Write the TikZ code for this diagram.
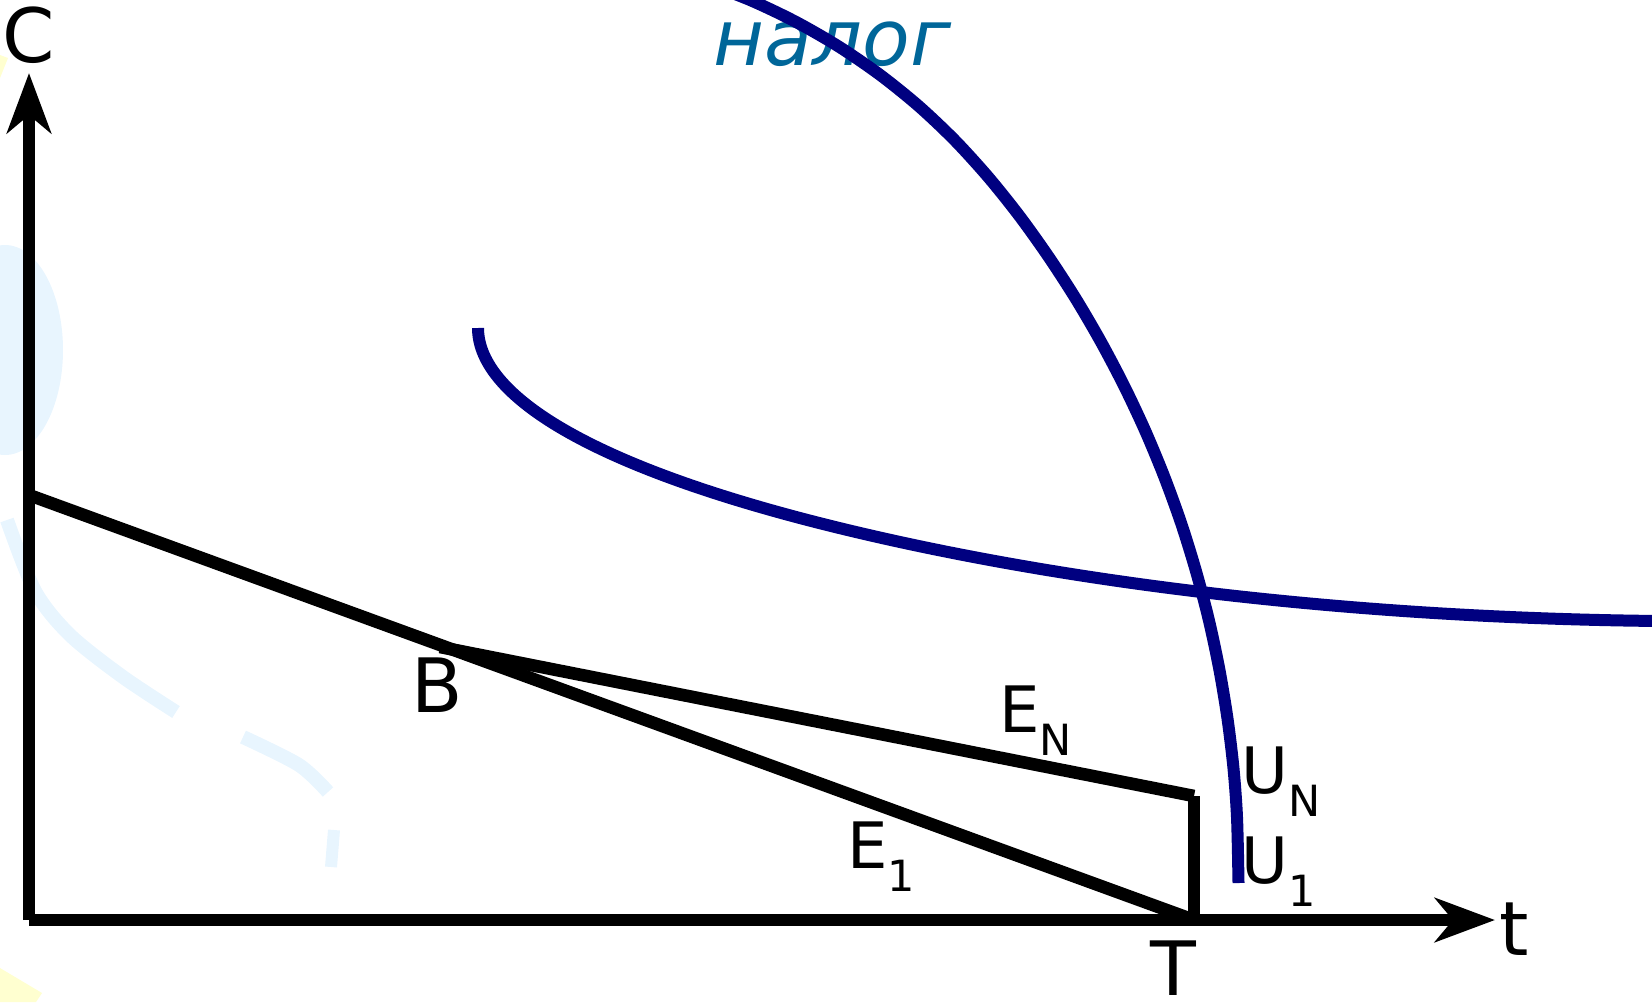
\documentclass[tikz,border=0pt]{standalone}
\usepackage{fontspec}
\setmainfont{DejaVu Sans}
\usetikzlibrary{arrows.meta}
\definecolor{curveblue}{RGB}{0,0,128}
\definecolor{taxblue}{RGB}{0,102,153}
\definecolor{ghostblue}{RGB}{232,245,254}
\definecolor{ghostyellow}{RGB}{255,255,208}
\newcommand{\lowsub}[1]{\raisebox{-11.5pt}{\fontsize{21.5pt}{24pt}\selectfont #1}}

\begin{document}
\begin{tikzpicture}[x=0.5pt, y=-0.5pt,
    axis/.style={line width=6.3pt, -{Stealth[length=30pt, width=22pt, inset=9pt]}},
    budget/.style={line width=6.3pt},
    curve/.style={line width=6pt, draw=curveblue},
    big/.style={inner sep=0pt, anchor=base, font=\fontsize{37.5pt}{40pt}\selectfont},
    mid/.style={inner sep=0pt, anchor=base west, font=\fontsize{32pt}{36pt}\selectfont}
]
    \useasboundingbox (0,0) rectangle (1652,1002);
    \clip (0,0) rectangle (1652,1002);

    % faint background marks
    \fill[ghostblue] (5,350) ellipse [x radius=58, y radius=105];
    \draw[ghostblue, line width=7pt] plot[smooth] coordinates {(7,520) (35,591) (70,635) (123,677) (176,712)};
    \draw[ghostblue, line width=7pt] plot[smooth] coordinates {(243,737) (299,765) (328,792)};
    \draw[ghostblue, line width=6pt] (334,830) -- (331,867);
    \fill[ghostyellow] (0,55) -- (8,58) -- (0,78) -- cycle;
    \fill[ghostyellow] (0,968) -- (42,993) -- (36,1002) -- (0,1002) -- cycle;

    % points
    \coordinate (O) at (29,920);
    \coordinate (Ctip) at (29,73);
    \coordinate (ttip) at (1495,920);
    \coordinate (A) at (29,495);
    \coordinate (B) at (440,647);
    \coordinate (T) at (1194,920);
    \coordinate (Tup) at (1194,796);

    % axes
    \draw[axis] (O) -- (Ctip);
    \draw[axis] (O) -- (ttip);

    % budget lines
    \draw[budget] (A) -- (T);
    \draw[budget] (B) -- (Tup);
    \draw[budget] (Tup) -- (T);

    % labels
    \node[big] (Clabel) at (28.5,62) {C};
    \node[big] (tlabel) at (1514.5,955) {t};
    \node[big] (Tlabel) at (1173.5,995) {T};
    \node[big] (Blabel) at (437.5,712) {B};
    \node[mid] (ENlabel) at (999,732) {E\lowsub{N}};
    \node[mid] (E1label) at (847,868) {E\lowsub{1}};
    \node[mid] (UNlabel) at (1241,793) {U\lowsub{N}};
    \node[mid] (U1label) at (1241,883) {U\lowsub{1}};
    \node[inner sep=0pt, anchor=base, text=taxblue, font=\itshape\fontsize{39pt}{42pt}\selectfont] (tax) at (832.5,65) {налог};

    % curves
    \draw[curve] plot[smooth] coordinates {(703.3,-17.8) (750,0) (795.2,21.5) (838.5,46.4)
        (879.8,74.7) (918.7,106.1) (955,140.5) (988.6,177.5) (1019.8,216.5) (1048.7,257)
        (1075.8,298.8) (1100.9,341.8) (1124.1,385.9) (1145.3,431) (1164.4,477.1) (1181.4,524)
        (1196.1,571.6) (1208.8,619.9) (1219.2,668.7) (1227.4,718) (1233.4,767.6) (1237,817.4)
        (1238.5,883)};
    \draw[curve] (478,328) .. controls (478,398) and (600,476.6) .. (900,542)
        .. controls (1100,585.6) and (1360,618) .. (1660,621);
\end{tikzpicture}
\end{document}
